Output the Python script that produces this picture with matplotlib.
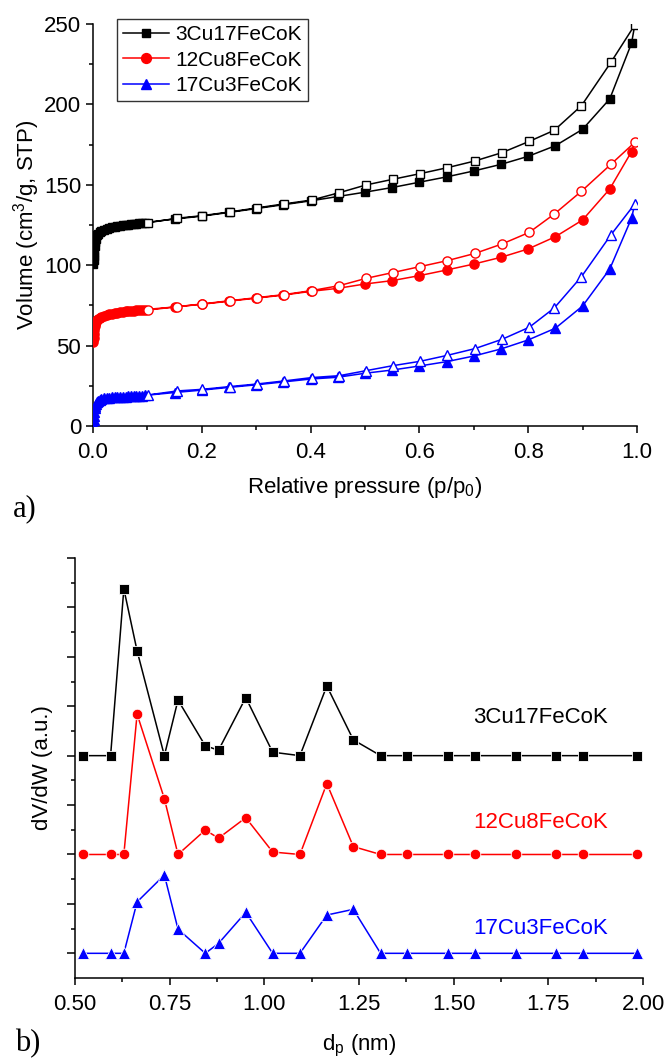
import matplotlib
matplotlib.use("Agg")
import matplotlib.pyplot as plt
from matplotlib.ticker import MultipleLocator, NullFormatter

plt.rcParams['font.family'] = ['Liberation Sans', 'DejaVu Sans']
plt.rcParams['mathtext.fontset'] = 'custom'
plt.rcParams['mathtext.rm'] = 'Liberation Sans'
plt.rcParams['mathtext.it'] = 'Liberation Sans:italic'

# ---------------- data: (a) N2 isotherms ----------------
samples = ['3Cu17FeCoK', '12Cu8FeCoK', '17Cu3FeCoK']
colors = ['#000000', '#FF0000', '#0000FF']
markers = ['s', 'o', '^']

p_ads = [0.0005, 0.001, 0.0015, 0.002, 0.003, 0.004, 0.005, 0.007, 0.009, 0.012,
         0.015, 0.02, 0.025, 0.03, 0.035, 0.04, 0.045, 0.05, 0.055, 0.06, 0.065,
         0.07, 0.075, 0.08, 0.085, 0.09, 0.095,
         0.15, 0.2, 0.25, 0.3, 0.35, 0.4, 0.45, 0.5, 0.55, 0.6, 0.65, 0.7, 0.75,
         0.8, 0.85, 0.9, 0.95, 0.99]
p_des = [0.996, 0.952, 0.898, 0.848, 0.802, 0.752, 0.702, 0.651, 0.601, 0.551,
         0.502, 0.453, 0.402, 0.351, 0.301, 0.251, 0.201, 0.155, 0.101]

v_ads_3Cu = [100.5, 103, 106, 108.5, 112, 114.5, 116.5, 118.5, 119.5, 120.5,
             121.2, 122.0, 122.6, 123.1, 123.5, 123.9, 124.2, 124.5, 124.8, 125.0,
             125.3, 125.5, 125.7, 125.9, 126.1, 126.3, 126.5,
             128.7, 130.5, 132.8, 135.2, 137.6, 140.0, 142.7, 145.4, 148.3, 151.6,
             154.9, 158.6, 162.7, 167.7, 174.3, 184.5, 203.4, 238.0]
v_des_3Cu = [249.4, 226.1, 199.2, 183.9, 177.0, 170.0, 164.8, 160.6, 156.9, 153.4,
             149.9, 145.1, 140.5, 138.1, 135.6, 133.1, 130.8, 129.2, 126.4]

v_ads_12Cu = [52.5, 55, 57.5, 59.5, 62, 63.5, 64.5, 65.8, 66.6, 67.3,
              67.9, 68.6, 69.1, 69.5, 69.9, 70.2, 70.5, 70.8, 71.0, 71.2,
              71.4, 71.6, 71.8, 72.0, 72.1, 72.3, 72.4,
              74.0, 75.7, 77.6, 79.5, 81.4, 83.7, 85.6, 88.3, 90.4, 93.5,
              97.0, 100.7, 104.9, 110.1, 117.7, 128.1, 147.4, 170.6]
v_des_12Cu = [176.4, 162.7, 146.0, 131.8, 120.4, 113.2, 107.3, 102.8, 99.1, 95.4,
              91.8, 87.3, 84.2, 81.7, 79.8, 77.9, 75.9, 74.2, 72.1]

v_ads_17Cu = [1.5, 4, 6.5, 8.5, 11, 12.5, 13.8, 15.0, 15.7, 16.3,
              16.7, 17.1, 17.4, 17.6, 17.8, 17.9, 18.0, 18.1, 18.2, 18.3,
              18.4, 18.5, 18.6, 18.7, 18.8, 18.9, 19.0,
              20.8, 22.3, 24.0, 25.6, 27.4, 29.2, 30.3, 32.8, 34.8, 37.3,
              40.0, 43.5, 47.9, 53.5, 60.8, 74.6, 97.6, 129.2]
v_des_17Cu = [138.1, 118.8, 92.9, 73.4, 61.4, 53.9, 48.1, 43.9, 40.2, 37.5,
              34.4, 31.3, 30.1, 28.0, 26.1, 24.5, 22.8, 21.8, 19.3]

# ---------------- data: (b) pore size distribution ----------------
d_p = [0.522, 0.594, 0.629, 0.664, 0.736, 0.772, 0.844, 0.879, 0.951, 1.022,
       1.094, 1.165, 1.235, 1.307, 1.378, 1.486, 1.557, 1.665, 1.771, 1.842, 1.985]
psd_3Cu = [9.0, 9.0, 15.75, 13.24, 9.0, 11.25, 9.40, 9.22, 11.35, 9.14,
           9.0, 11.82, 9.64, 9.0, 9.0, 9.0, 9.0, 9.0, 9.0, 9.0, 9.0]
psd_12Cu = [5.0, 5.0, 5.0, 10.68, 7.26, 5.0, 5.99, 5.66, 6.49, 5.10,
            5.0, 7.87, 5.32, 5.0, 5.0, 5.0, 5.0, 5.0, 5.0, 5.0, 5.0]
psd_17Cu = [1.0, 1.0, 1.0, 3.08, 4.17, 1.98, 1.0, 1.40, 2.66, 1.0,
            1.0, 2.55, 2.78, 1.0, 1.0, 1.0, 1.0, 1.0, 1.0, 1.0, 1.0]
label_y = [10.53, 6.28, 2.02]

ads = [v_ads_3Cu, v_ads_12Cu, v_ads_17Cu]
des = [v_des_3Cu, v_des_12Cu, v_des_17Cu]
psd = [psd_3Cu, psd_12Cu, psd_17Cu]

fig = plt.figure(figsize=(6.66, 10.61), dpi=100)
FS = 16

def style_axes(ax):
    for s in ['top', 'right']:
        ax.spines[s].set_visible(False)
    for s in ['left', 'bottom']:
        ax.spines[s].set_linewidth(1.1)
    ax.tick_params(which='major', direction='out', length=5, width=1.1, labelsize=FS)
    ax.tick_params(which='minor', direction='out', length=3, width=1.1)
    ax.tick_params(axis='x', which='major', pad=6.5)

# ---------- (a) ----------
ax1 = fig.add_axes([0.1396, 0.5985, 0.8168, 0.3789])
msz = {'s': 5.8, 'o': 6.6, '^': 7.0}
for name, c, m, va, vd in zip(samples, colors, markers, ads, des):
    ax1.plot(p_ads + p_des, va + vd, '-', color=c, lw=1.1, zorder=2)
    ax1.plot(p_ads, va, linestyle='none', marker=m, ms=msz[m], color=c,
             mec=c, mfc=c, zorder=3)
    ax1.plot(p_des, vd, linestyle='none', marker=m, ms=msz[m], color=c,
             mec=c, mfc='white', mew=1.0, zorder=4)
    ax1.plot([], [], '-', color=c, lw=1.1, marker=m, ms=msz[m] + 0.5, label=name)

ax1.set_xlim(0, 1.0)
ax1.set_ylim(0, 250)
ax1.xaxis.set_major_locator(MultipleLocator(0.2))
ax1.xaxis.set_minor_locator(MultipleLocator(0.1))
ax1.yaxis.set_major_locator(MultipleLocator(50))
ax1.yaxis.set_minor_locator(MultipleLocator(25))
style_axes(ax1)
ax1.set_xlabel('Relative pressure (p/p$_\\mathregular{0}$)', fontsize=FS, labelpad=9)
ax1.set_ylabel('Volume (cm$^\\mathregular{3}$/g, STP)', fontsize=FS, labelpad=1.5)
leg = ax1.legend(loc='upper left', bbox_to_anchor=(0.044, 1.012), fontsize=15,
                 frameon=True, fancybox=False, handlelength=2.2, handletextpad=0.3,
                 borderpad=0.3, labelspacing=0.3, borderaxespad=0)
leg.get_frame().set_edgecolor('black')
leg.get_frame().set_linewidth(1.0)

fig.text(0.02, 0.521, 'a)', family='Liberation Serif', fontsize=22, va='center')

# ---------- (b) ----------
ax2 = fig.add_axes([0.1126, 0.0782, 0.8529, 0.3959])
msz2 = {'s': 7.0, 'o': 7.6, '^': 8.2}
for name, c, m, yv, ly in zip(samples, colors, markers, psd, label_y):
    ax2.plot(d_p, yv, '-', color=c, lw=1.1, marker=m, ms=msz2[m], mfc=c,
             mec='white', mew=0.6)
    ax2.text(1.907, ly, name, color=c, fontsize=FS, ha='right', va='center')

ax2.set_xlim(0.5, 2.0)
ax2.set_ylim(0, 17)
ax2.xaxis.set_major_locator(MultipleLocator(0.25))
ax2.xaxis.set_minor_locator(MultipleLocator(0.125))
ax2.set_yticks([1, 3, 5, 7, 9, 11, 13, 15, 17])
ax2.set_yticks([2, 4, 6, 8, 10, 12, 14, 16], minor=True)
ax2.yaxis.set_major_formatter(NullFormatter())
style_axes(ax2)
ax2.tick_params(axis='y', which='major', length=6)
ax2.set_xlabel('d$_\\mathregular{p}$ (nm)', fontsize=FS, labelpad=13)
ax2.set_ylabel('dV/dW (a.u.)', fontsize=FS, labelpad=6)

fig.text(0.022, 0.0095, 'b)', family='Liberation Serif', fontsize=22, va='baseline')

fig.savefig('out.png', dpi=100)
